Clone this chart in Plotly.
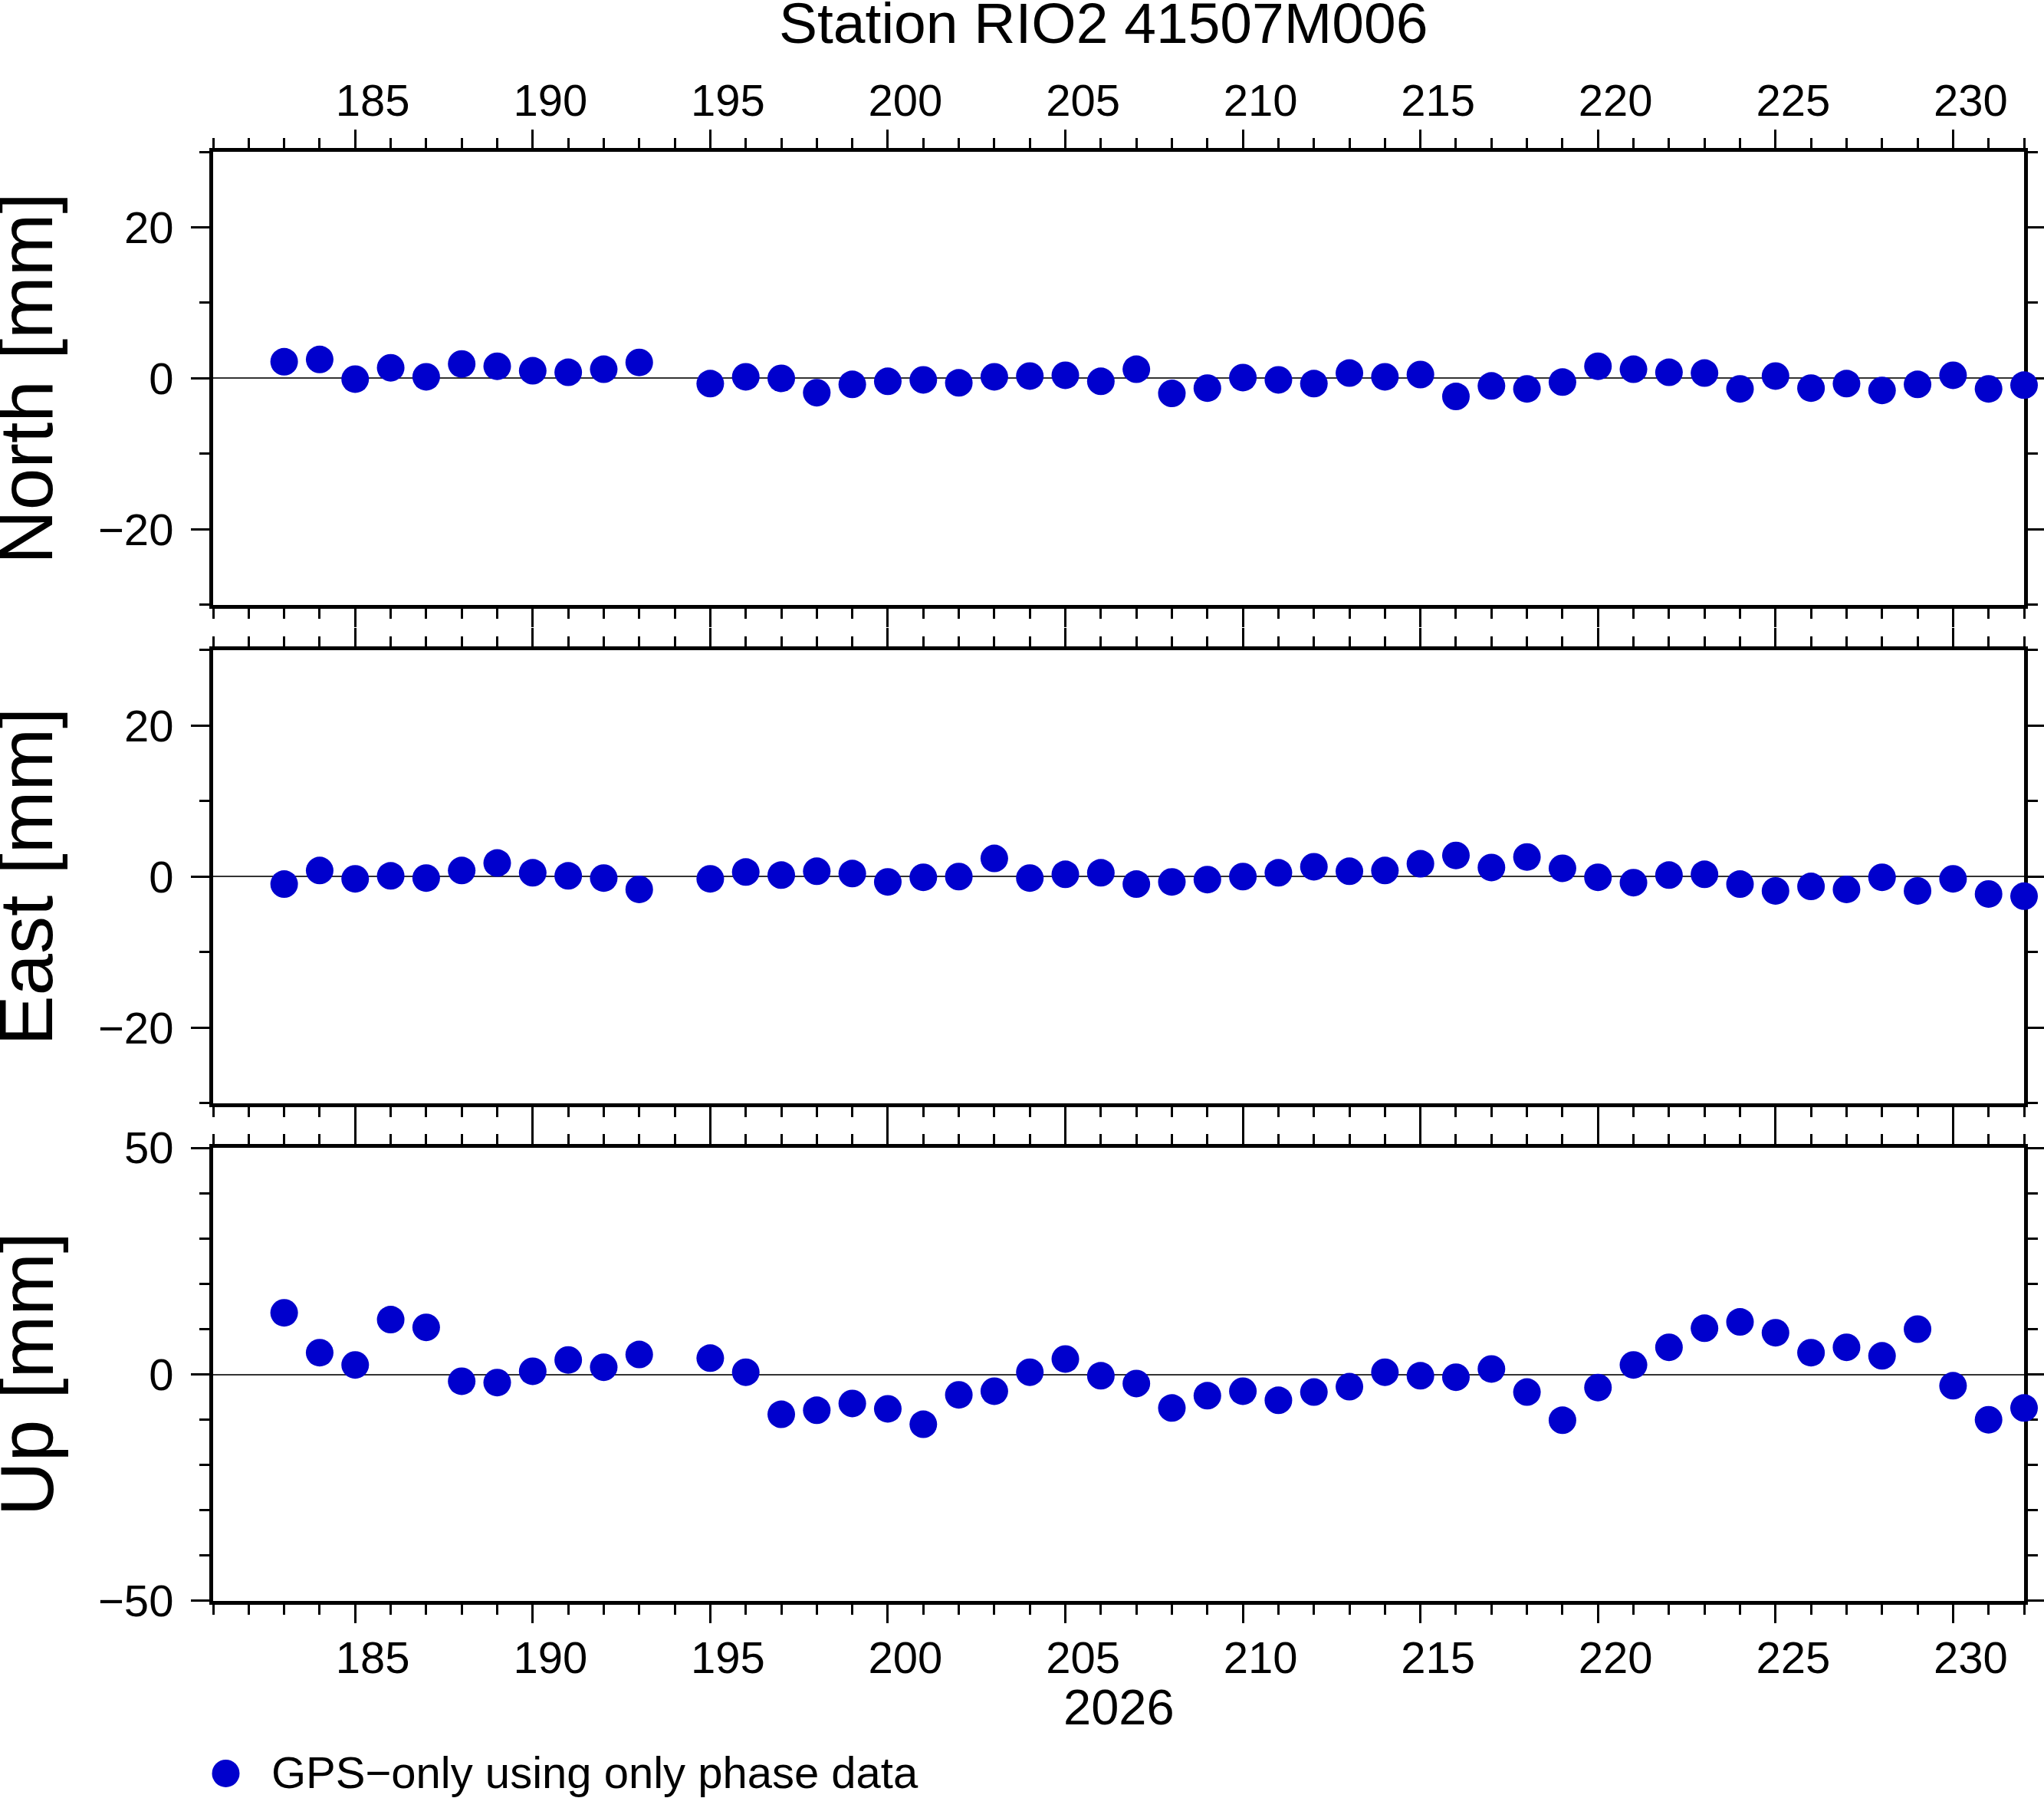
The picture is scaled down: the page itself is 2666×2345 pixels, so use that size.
import plotly.graph_objs as go

# day of year 2026 (no solution on day 194)
days = [183, 184, 185, 186, 187, 188, 189, 190, 191, 192, 193,
        195, 196, 197, 198, 199, 200, 201, 202, 203, 204, 205, 206, 207, 208, 209, 210,
        211, 212, 213, 214, 215, 216, 217, 218, 219, 220, 221, 222, 223, 224, 225, 226,
        227, 228, 229, 230, 231, 232]

north = [2.2, 2.5, -0.1, 1.4, 0.2, 1.9, 1.6, 1.0, 0.8, 1.2, 2.1,
         -0.7, 0.2, 0.0, -1.9, -0.8, -0.4, -0.2, -0.6, 0.2, 0.3, 0.4, -0.4, 1.2, -2.0, -1.3, 0.1,
         -0.2, -0.7, 0.7, 0.2, 0.5, -2.4, -1.0, -1.4, -0.5, 1.6, 1.2, 0.8, 0.7, -1.4, 0.3, -1.3,
         -0.7, -1.6, -0.8, 0.4, -1.4, -0.9]

east = [-1.0, 0.8, -0.3, 0.1, -0.2, 0.8, 1.8, 0.5, 0.1, -0.2, -1.7,
        -0.3, 0.6, 0.2, 0.7, 0.4, -0.7, -0.1, 0.0, 2.4, -0.2, 0.3, 0.5, -1.0, -0.7, -0.4, 0.0,
        0.5, 1.3, 0.7, 0.8, 1.7, 2.8, 1.2, 2.6, 1.1, -0.1, -0.8, 0.2, 0.3, -1.0, -1.9, -1.3,
        -1.7, -0.1, -1.9, -0.3, -2.3, -2.6]

up = [13.6, 4.8, 2.1, 12.1, 10.4, -1.5, -1.8, 0.7, 3.2, 1.6, 4.4,
      3.6, 0.5, -8.8, -7.9, -6.4, -7.6, -11.0, -4.5, -3.7, 0.5, 3.4, -0.3, -2.0, -7.4, -4.7, -3.7,
      -5.7, -3.9, -2.7, 0.5, -0.3, -0.6, 1.2, -3.9, -10.1, -2.9, 2.1, 6.0, 10.2, 11.6, 9.2, 4.8,
      6.0, 4.1, 10.0, -2.5, -10.0, -7.4]

components = ["North", "East", "Up"]
y_limits = [30, 30, 50]
y_major = [20, 20, 50]

FONT = "Liberation Sans, Arial, sans-serif"
BLUE = "rgb(0,0,205)"
W, H = 2666, 2345
L, R, T, B = 277.5, 2640, 197.5, 2088


def px_x(x):
    return (x - L) / (R - L)


def px_y(y):
    return (B - y) / (B - T)


panels = [(197.5, 788.5), (847.5, 1438.5), (1497, 2088)]

fig = go.Figure()

for i, vals in enumerate([north, east, up]):
    n = "" if i == 0 else str(i + 1)
    fig.add_trace(go.Scatter(x=days, y=vals, mode="markers", xaxis="x" + n, yaxis="y" + n,
                             marker=dict(size=36, color=BLUE, line=dict(width=0)),
                             cliponaxis=False, showlegend=False, name="GPS-only using only phase data"))

    top, bot = panels[i]
    fig.layout["xaxis" + n] = dict(
        range=[181, 232], anchor="y" + n, side="top" if i == 0 else "bottom",
        showline=True, linewidth=5, linecolor="black", mirror="ticks",
        ticks="outside", ticklen=24, tickwidth=3, tickcolor="black", tick0=185, dtick=5,
        minor=dict(ticks="outside", ticklen=13, tickwidth=3, tickcolor="black", tick0=181, dtick=1),
        showgrid=False, zeroline=False, showticklabels=(i != 1),
        tickfont=dict(size=58, family=FONT, color="black"), tickformat="d",
        ticklabelshift=23, ticklabelstandoff=-5, layer="below traces", automargin=False)
    fig.layout["yaxis" + n] = dict(
        range=[-y_limits[i], y_limits[i]], anchor="x" + n, domain=[px_y(bot), px_y(top)],
        showline=True, linewidth=5, linecolor="black", mirror="ticks",
        ticks="outside", ticklen=24, tickwidth=3, tickcolor="black", tick0=0, dtick=y_major[i],
        minor=dict(ticks="outside", ticklen=13, tickwidth=3, tickcolor="black", tick0=0, dtick=10),
        showgrid=False, zeroline=True, zerolinecolor="#333333", zerolinewidth=1.5,
        tickfont=dict(size=58, family=FONT, color="black"), ticklabelstandoff=11,
        layer="below traces", automargin=False)

annotations = [
    dict(text="Station RIO2 41507M006", x=px_x(1439), y=px_y(29), font=dict(size=75)),
    dict(text="2026", x=px_x(1459), y=px_y(2227), font=dict(size=65)),
    dict(text="GPS−only using only phase data", x=px_x(352), y=px_y(2312), xanchor="left",
         font=dict(size=58)),
]
for i, comp in enumerate(components):
    top, bot = panels[i]
    annotations.append(dict(text=comp + " [mm]", x=px_x(34), y=px_y((top + bot) / 2),
                            textangle=-90, font=dict(size=98)))

for a in annotations:
    a.setdefault("xanchor", "center")
    a.update(xref="paper", yref="paper", yanchor="middle", showarrow=False)
    a["font"].update(family=FONT, color="black")

fig.update_layout(
    width=W, height=H, autosize=False, margin=dict(l=L, r=W - R, t=T, b=H - B, pad=0),
    paper_bgcolor="white", plot_bgcolor="white", showlegend=False,
    annotations=annotations,
    shapes=[dict(type="circle", xref="paper", yref="paper", fillcolor=BLUE, line=dict(width=0),
                 x0=px_x(294 - 18), x1=px_x(294 + 18), y0=px_y(2313 + 18), y1=px_y(2313 - 18))],
)

# no page margin or scrollbars, so the figure sits exactly in the window
page_fix = ("document.documentElement.style.overflow = 'hidden';"
            "document.body.style.overflow = 'hidden';"
            "document.body.style.margin = '0';"
            "Plotly.relayout(document.getElementById('{plot_id}'), {width: %d, height: %d});" % (W, H))
fig.write_html("out.html", config={"displayModeBar": False, "responsive": False},
               post_script=page_fix)
